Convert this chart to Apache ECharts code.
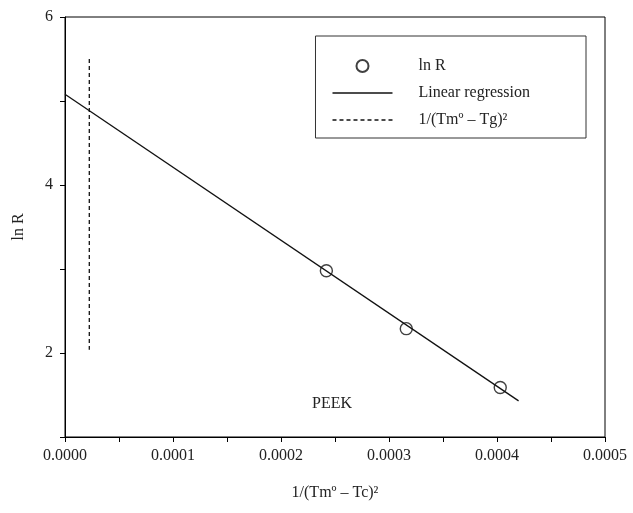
<!DOCTYPE html>
<html>
<head>
<meta charset="utf-8">
<script src="https://cdn.jsdelivr.net/npm/echarts@6/dist/echarts.min.js"></script>
<style>
html,body{margin:0;padding:0;background:#fff;}
#chart{width:633px;height:513px;}
</style>
</head>
<body>
<div id="chart"></div>
<script>
// measured points (x = 1/(Tm°-Tc)^2, y = ln R)
var lnRx = [0.000242, 0.000316, 0.000403];
var lnRy = [2.98, 2.29, 1.59];
// regression line end points
var regX = [0.0, 0.00042];
var regY = [5.08, 1.43];
// 1/(Tm° - Tg)^2 marker line
var tgX = [0.0000225, 0.0000225];
var tgY = [5.50, 2.04];

var xTicks = [0, 0.0001, 0.0002, 0.0003, 0.0004, 0.0005];
var yTicks = [2, 4, 6];

var font = 'Liberation Serif';
var chart = echarts.init(document.getElementById('chart'));

function pairs(xs, ys){
	var out = [];
	for(var i=0;i<xs.length;i++){ out.push([xs[i], ys[i]]); }
	return out;
}
function near(list, v, eps){
	for(var i=0;i<list.length;i++){ if(Math.abs(list[i]-v) < eps) return true; }
	return false;
}
// legend icons: solid and dashed strokes
var solidIcon = 'path://M0,0 L60,0 L60,1.3 L0,1.3 Z';
var dashIcon = 'path://M0,0 L4,0 L4,1.3 L0,1.3 Z M7,0 L11,0 L11,1.3 L7,1.3 Z M14,0 L18,0 L18,1.3 L14,1.3 Z M21,0 L25,0 L25,1.3 L21,1.3 Z M28,0 L32,0 L32,1.3 L28,1.3 Z M35,0 L39,0 L39,1.3 L35,1.3 Z M42,0 L46,0 L46,1.3 L42,1.3 Z M49,0 L53,0 L53,1.3 L49,1.3 Z M56,0 L60,0 L60,1.3 L56,1.3 Z';

chart.setOption({
	animation:false,
	backgroundColor:'#fff',
	grid:{left:65, right:28, top:17, bottom:76, show:true, borderColor:'#000', borderWidth:1},
	legend:{
		right:47, top:36,
		orient:'vertical',
		itemWidth:60, itemHeight:12, itemGap:11,
		padding:[22,56,10,17],
		borderColor:'#333', borderWidth:1,
		textStyle:{fontFamily:font, fontSize:16, color:'#222', padding:[0,0,0,21]},
		data:[
			{name:'ln R'},
			{name:'Linear regression', icon:solidIcon, itemStyle:{color:'#111', borderWidth:0}},
			{name:'1/(Tmº – Tg)²', icon:dashIcon, itemStyle:{color:'#111', borderWidth:0}}
		]
	},
	xAxis:{
		type:'value', min:0, max:0.0005, interval:0.00005,
		name:'1/(Tmº – Tc)²', nameLocation:'middle', nameGap:48,
		nameTextStyle:{fontFamily:font, fontSize:16, color:'#222'},
		axisLine:{onZero:false, lineStyle:{color:'#000'}},
		axisTick:{length:5, lineStyle:{color:'#000'}},
		splitLine:{show:false},
		axisLabel:{
			fontFamily:font, fontSize:16, color:'#222', margin:11,
			formatter:function(v){ return near(xTicks, v, 1e-9) ? v.toFixed(4) : ''; }
		}
	},
	yAxis:{
		type:'value', min:1, max:6, interval:1,
		name:'ln R', nameLocation:'middle', nameGap:38,
		nameTextStyle:{fontFamily:font, fontSize:16, color:'#222'},
		axisLine:{lineStyle:{color:'#000'}},
		axisTick:{length:5, lineStyle:{color:'#000'}},
		splitLine:{show:false},
		axisLabel:{
			fontFamily:font, fontSize:16, color:'#222', margin:12,
			formatter:function(v){ return near(yTicks, v, 1e-6) ? String(v) : ''; }
		}
	},
	graphic:[{
		type:'text', left:312, top:396,
		style:{text:'PEEK', font:'16px "Liberation Serif"', fill:'#222'}
	}],
	series:[{
		name:'ln R', type:'scatter',
		symbol:'circle', symbolSize:12,
		itemStyle:{color:'rgba(255,255,255,0)', borderColor:'#111', borderWidth:1.4},
		data:pairs(lnRx, lnRy), z:5
	},{
		name:'Linear regression', type:'line',
		showSymbol:false, symbol:'none',
		lineStyle:{color:'#111', width:1.3},
		itemStyle:{color:'#111'},
		data:pairs(regX, regY)
	},{
		name:'1/(Tmº – Tg)²', type:'line',
		showSymbol:false, symbol:'none',
		lineStyle:{color:'#111', width:1.3, type:[4,3]},
		itemStyle:{color:'#111'},
		data:pairs(tgX, tgY)
	}]
});
</script>
</body>
</html>
